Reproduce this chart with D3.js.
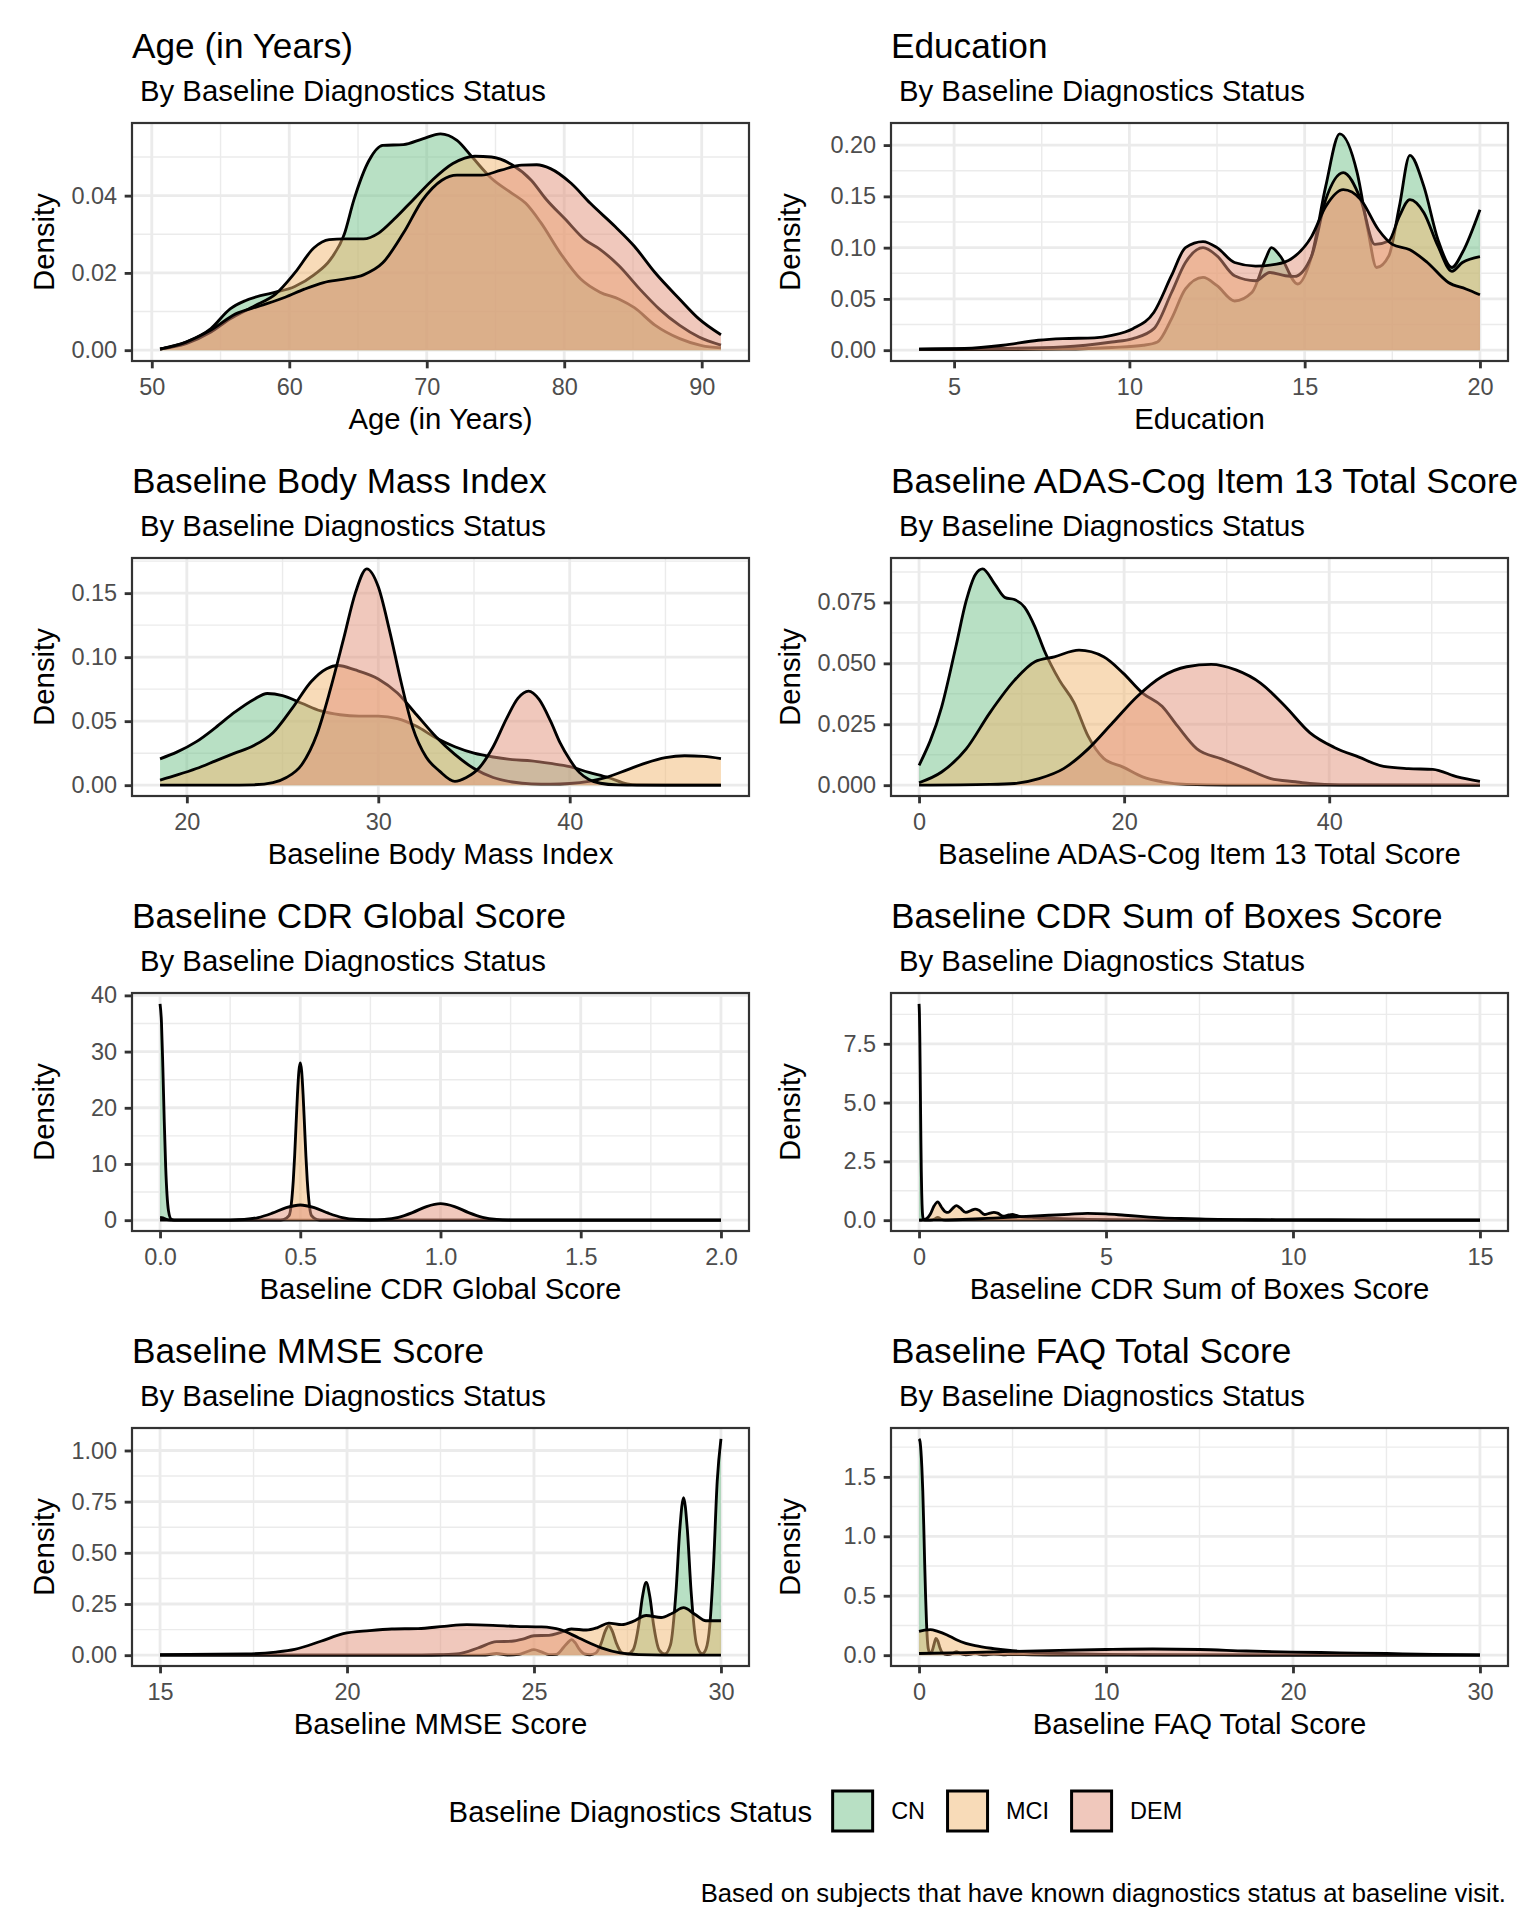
<!DOCTYPE html>
<html>
<head>
<meta charset="utf-8">
<script src="https://cdn.jsdelivr.net/npm/d3@7"></script>
<style>
  body { margin: 0; background: #fff; }
  svg text { font-family: "Liberation Sans", Arial, Helvetica, sans-serif; }
</style>
</head>
<body>
<div id="container"></div>
<script>
// ---- data: [x, density] per status group ----

const statusLevels = ["CN", "MCI", "DEM"];

const ageCN = [[50.6,0.0003],[52.5,0.0021],[54.3,0.0056],[55.7,0.0107],[56.8,0.0128],[57.9,0.0141],[59,0.015],[60.4,0.0165],[61.8,0.0195],[63,0.0235],[64,0.03],[64.7,0.0389],[65.8,0.0491],[66.8,0.053],[68.3,0.0532],[69.7,0.0547],[71,0.056],[72.2,0.0543],[73.3,0.05],[74.7,0.0445],[76.2,0.0406],[77.2,0.038],[78.3,0.033],[79.7,0.0252],[81.2,0.0184],[82.6,0.015],[84,0.0132],[85.1,0.011],[86.6,0.0065],[88.4,0.003],[90,0.0012],[91.4,0.0006]];
const ageMCI = [[50.6,0.0003],[52.5,0.0017],[54.3,0.0047],[55.7,0.0081],[57.5,0.0115],[59,0.0145],[60.4,0.02],[61.8,0.0265],[62.9,0.0286],[64,0.0288],[65.4,0.0288],[66.5,0.0303],[67.6,0.0338],[69,0.0389],[70.4,0.044],[71.9,0.0483],[73.5,0.0502],[74.7,0.05],[76.2,0.048],[77.6,0.044],[78.7,0.039],[80.1,0.0338],[81.5,0.0286],[82.6,0.0261],[84,0.0218],[85.5,0.0158],[86.9,0.0107],[88.4,0.0064],[89.8,0.0034],[91.4,0.0013]];
const ageDEM = [[50.6,0.0003],[52.5,0.0021],[54.3,0.0052],[56.1,0.0094],[57.9,0.0115],[59.7,0.0137],[61.1,0.0158],[62.5,0.0175],[64,0.0184],[65.4,0.0195],[66.8,0.0226],[68.3,0.0303],[69.7,0.0389],[71.1,0.044],[72.2,0.0453],[74,0.0453],[75.4,0.0466],[76.9,0.0479],[78,0.048],[79,0.047],[80.5,0.0432],[81.9,0.038],[83.7,0.032],[85.1,0.0269],[86.6,0.0201],[88.4,0.0132],[89.8,0.0081],[91.4,0.004]];

const eduCN = [[4,0.0005],[6,0.0005],[8.1,0.001],[9.5,0.0026],[10.4,0.0048],[10.8,0.008],[11.2,0.0306],[11.6,0.0597],[12.1,0.071],[12.5,0.0629],[13,0.048],[13.5,0.0565],[13.9,0.0903],[14.05,0.1],[14.3,0.092],[14.8,0.0645],[15.2,0.092],[15.6,0.1597],[16,0.211],[16.5,0.1726],[16.8,0.1177],[17.05,0.0806],[17.4,0.092],[17.7,0.14],[18,0.19],[18.4,0.1597],[18.8,0.108],[19.2,0.0806],[19.5,0.0952],[20,0.137]];
const eduMCI = [[4,0.001],[6,0.0015],[8.1,0.0032],[9.5,0.008],[10.1,0.0113],[10.7,0.021],[11.2,0.056],[11.6,0.0855],[12.1,0.1],[12.5,0.092],[13,0.0726],[13.6,0.0677],[14,0.0758],[14.45,0.0726],[14.7,0.0719],[15.2,0.092],[15.6,0.1468],[16.1,0.1732],[16.6,0.1468],[17,0.1032],[17.4,0.1065],[17.7,0.1306],[18,0.1468],[18.4,0.134],[18.8,0.1016],[19.2,0.077],[19.5,0.0855],[20,0.0913]];
const eduDEM = [[4,0.001],[5.3,0.0016],[6.4,0.0048],[7.4,0.0097],[8.1,0.0113],[9,0.012],[9.5,0.0145],[10.1,0.021],[10.7,0.037],[11.2,0.0726],[11.6,0.1],[12.1,0.1058],[12.5,0.1],[13,0.0855],[13.6,0.082],[14.2,0.0839],[14.6,0.0887],[15.2,0.111],[15.6,0.14],[16.1,0.1565],[16.6,0.1468],[17.1,0.1177],[17.5,0.1032],[18,0.098],[18.5,0.0855],[19.1,0.066],[19.6,0.0597],[20,0.054]];

const bmiCN = [[18.6,0.0206],[19.5,0.026],[20.5,0.034],[21.5,0.045],[22.5,0.057],[23.5,0.067],[24.2,0.0716],[25,0.07],[26,0.064],[27,0.058],[28,0.055],[29,0.054],[30,0.054],[31,0.052],[32,0.046],[33,0.037],[34,0.03],[35,0.025],[36,0.022],[37,0.02],[38,0.019],[39,0.017],[40,0.0145],[41,0.01],[42,0.006],[43,0.001],[43.5,0.0002],[45,0],[47.9,0]];
const bmiMCI = [[18.6,0.004],[19.5,0.008],[20.5,0.013],[21.5,0.019],[22.5,0.025],[23.5,0.031],[24.5,0.041],[25.5,0.06],[26.5,0.081],[27.3,0.091],[27.9,0.0935],[28.8,0.09],[30,0.083],[31,0.072],[32,0.055],[33,0.038],[34,0.024],[35,0.013],[36,0.006],[37,0.0025],[38,0.001],[39,0.0008],[40,0.0013],[41,0.003],[42,0.0065],[43,0.012],[44,0.0175],[45,0.0215],[46,0.023],[47,0.0225],[47.9,0.0208]];
const bmiDEM = [[18.6,0],[22,0],[23.5,0.0003],[24.5,0.002],[25.2,0.006],[26,0.016],[26.8,0.04],[27.5,0.075],[28.2,0.115],[28.8,0.15],[29.4,0.169],[30,0.155],[30.6,0.12],[31.2,0.08],[31.8,0.045],[32.5,0.022],[33.2,0.011],[34,0.003],[34.6,0.006],[35.3,0.014],[36,0.03],[36.7,0.052],[37.3,0.068],[37.85,0.0735],[38.4,0.067],[39,0.05],[39.5,0.033],[40,0.02],[40.5,0.01],[41,0.0045],[41.6,0.0015],[42.5,0.0002],[43.5,0],[47.9,0]];

const adasCN = [[0,0.0081],[2.2,0.032],[3.6,0.057],[4.6,0.0757],[5.5,0.0865],[6.2,0.0888],[7.4,0.0824],[8.4,0.077],[9.3,0.0762],[10.3,0.073],[11.3,0.065],[12.2,0.0554],[13.7,0.043],[15.1,0.034],[16.5,0.02],[18,0.011],[19.9,0.0074],[21.8,0.0034],[23.7,0.0014],[26.1,0.0003],[30,0],[54.7,0]];
const adasMCI = [[0,0.001],[2.2,0.0054],[4.6,0.0149],[6.9,0.0297],[9.3,0.043],[11.3,0.0507],[13.2,0.0527],[15.6,0.0554],[18,0.0527],[19.9,0.046],[21.8,0.0378],[23.7,0.0324],[25.2,0.0243],[27.1,0.0149],[29.5,0.0108],[31.9,0.0068],[34.3,0.0027],[36.7,0.0014],[38.1,0.0007],[41,0.0001],[54.7,0]];
const adasDEM = [[0,0],[6.9,0.0003],[9.3,0.0007],[11.7,0.0027],[14.1,0.0068],[16.5,0.0149],[18.9,0.0257],[21.3,0.0365],[23.7,0.0446],[26.1,0.0486],[28.5,0.0496],[30.9,0.0473],[33.3,0.0419],[35.7,0.0324],[38.1,0.0216],[40.5,0.0155],[42.9,0.0115],[45.3,0.0077],[47.7,0.0068],[50.1,0.0065],[52.5,0.0034],[54.7,0.0016]];

const cdrgCN = [[0,38.5],[0.005,35.3],[0.01,27.2],[0.015,17.6],[0.02,9.6],[0.025,4.4],[0.03,1.7],[0.04,0.15],[0.05,0.01],[0.1,0],[2,0]];
const cdrgMCI = [[0,0.5],[0.01,0.4],[0.02,0.2],[0.03,0.07],[0.05,0],[0.42,0],[0.44,0.11],[0.46,0.8],[0.47,3.8],[0.475,7],[0.48,11.5],[0.485,17],[0.49,22.4],[0.495,26.5],[0.5,28],[0.505,26.5],[0.51,22.4],[0.515,17],[0.52,11.5],[0.525,7],[0.53,3.8],[0.54,0.8],[0.56,0.11],[0.58,0],[2,0]];
const cdrgDEM = [[0,0],[0.2,0],[0.25,0.02],[0.3,0.12],[0.35,0.46],[0.4,1.24],[0.45,2.22],[0.5,2.7],[0.55,2.22],[0.6,1.24],[0.65,0.46],[0.7,0.12],[0.75,0.04],[0.8,0.13],[0.85,0.51],[0.9,1.35],[0.95,2.43],[1,2.95],[1.05,2.43],[1.1,1.35],[1.15,0.51],[1.2,0.13],[1.25,0.02],[1.3,0],[2,0]];

const cdrsbCN = [[0,9.2],[0.01,8.8],[0.02,7.8],[0.03,6.4],[0.04,4.8],[0.05,3.3],[0.06,2.1],[0.07,1.25],[0.08,0.68],[0.1,0.15],[0.12,0.03],[0.15,0.005],[0.3,0.003],[0.42,0.05],[0.5,0.12],[0.58,0.05],[0.7,0.003],[1,0.008],[1.5,0],[15,0]];
const cdrsbMCI = [[0,0],[0.1,0.01],[0.2,0.06],[0.3,0.25],[0.4,0.6],[0.5,0.78],[0.6,0.55],[0.7,0.36],[0.78,0.33],[0.9,0.5],[1,0.62],[1.1,0.52],[1.25,0.33],[1.4,0.42],[1.5,0.47],[1.6,0.42],[1.75,0.24],[1.9,0.3],[2,0.33],[2.1,0.3],[2.25,0.17],[2.4,0.22],[2.5,0.24],[2.6,0.2],[2.8,0.13],[3,0.12],[3.3,0.09],[3.6,0.07],[4,0.05],[4.5,0.035],[5,0.02],[6,0.01],[7,0.004],[8,0.001],[9,0],[15,0]];
const cdrsbDEM = [[0,0],[0.5,0.005],[1,0.02],[1.5,0.05],[2,0.09],[2.5,0.13],[3,0.17],[3.5,0.21],[4,0.25],[4.5,0.29],[5,0.27],[5.5,0.21],[6,0.15],[6.5,0.1],[7,0.07],[7.5,0.05],[8,0.035],[9,0.02],[10,0.012],[11,0.007],[12,0.004],[13,0.002],[14,0.001],[15,0]];

const mmseCN = [[15,0],[23.4,0],[23.7,0.001],[24,0.008],[24.3,0.001],[24.6,0.004],[24.8,0.016],[25,0.027],[25.2,0.016],[25.4,0.003],[25.6,0.004],[25.8,0.04],[25.9,0.061],[26,0.076],[26.1,0.061],[26.2,0.032],[26.35,0.006],[26.5,0.002],[26.65,0.01],[26.8,0.06],[26.9,0.115],[27,0.144],[27.1,0.115],[27.2,0.06],[27.35,0.012],[27.5,0.006],[27.65,0.026],[27.8,0.146],[27.9,0.284],[28,0.355],[28.1,0.284],[28.2,0.146],[28.35,0.025],[28.5,0.006],[28.65,0.05],[28.8,0.316],[28.9,0.616],[29,0.77],[29.1,0.616],[29.2,0.316],[29.35,0.051],[29.5,0.007],[29.6,0.03],[29.7,0.143],[29.8,0.434],[29.9,0.85],[30,1.057]];
const mmseMCI = [[15,0],[22,0],[22.5,0.002],[23,0.008],[23.5,0.035],[24,0.066],[24.4,0.068],[24.7,0.078],[25,0.095],[25.4,0.097],[25.7,0.11],[26,0.128],[26.4,0.123],[26.7,0.135],[27,0.157],[27.35,0.149],[27.65,0.165],[28,0.194],[28.4,0.184],[28.7,0.205],[29,0.232],[29.3,0.2],[29.6,0.168],[30,0.168]];
const mmseDEM = [[15,0.003],[17.3,0.006],[18.1,0.015],[18.6,0.028],[19.3,0.068],[19.9,0.105],[20.6,0.12],[21.2,0.128],[21.9,0.13],[22.6,0.141],[23.2,0.149],[23.9,0.146],[24.5,0.141],[25.2,0.138],[25.7,0.125],[26.2,0.084],[26.8,0.036],[27.3,0.011],[27.8,0.003],[28.5,0.0005],[30,0]];

const faqCN = [[0,1.82],[0.05,1.8],[0.1,1.72],[0.15,1.58],[0.2,1.38],[0.25,1.1],[0.3,0.78],[0.35,0.5],[0.4,0.27],[0.45,0.12],[0.5,0.05],[0.6,0.015],[0.7,0.035],[0.8,0.09],[0.9,0.14],[1,0.12],[1.1,0.07],[1.25,0.02],[1.5,0.005],[1.8,0.015],[2,0.03],[2.2,0.015],[2.5,0.004],[2.8,0.01],[3,0.018],[3.2,0.01],[3.6,0.003],[4,0.01],[4.5,0.003],[5,0.006],[6,0.003],[7,0.001],[8,0],[30,0]];
const faqMCI = [[0,0.2],[0.3,0.21],[0.6,0.215],[1,0.2],[1.5,0.17],[2,0.13],[2.5,0.1],[3,0.08],[4,0.055],[5,0.037],[6,0.025],[7,0.018],[8,0.013],[10,0.007],[12,0.004],[15,0.002],[20,0.001],[30,0]];
const faqDEM = [[0,0.014],[2.5,0.022],[5,0.032],[7.5,0.041],[10,0.048],[12.5,0.052],[15,0.048],[17.5,0.035],[20,0.026],[22.5,0.02],[25,0.014],[27.5,0.007],[30,0.003]];

// ---- panel labels and axis breaks ----
const panelTitles = ["Age (in Years)", "Education", "Baseline Body Mass Index", "Baseline ADAS-Cog Item 13 Total Score",
                     "Baseline CDR Global Score", "Baseline CDR Sum of Boxes Score", "Baseline MMSE Score", "Baseline FAQ Total Score"];
const subtitleText = "By Baseline Diagnostics Status";
const xTickVals = [[50,60,70,80,90],[5,10,15,20],[20,30,40],[0,20,40],[0,0.5,1,1.5,2],[0,5,10,15],[15,20,25,30],[0,10,20,30]];
const xTickFormats = ["d","d","d","d",".1f","d","d","d"];
const yTickVals = [[0,0.02,0.04],[0,0.05,0.1,0.15,0.2],[0,0.05,0.1,0.15],[0,0.025,0.05,0.075],[0,10,20,30,40],[0,2.5,5,7.5],[0,0.25,0.5,0.75,1],[0,0.5,1,1.5]];
const yTickFormats = [".2f",".2f",".2f",".3f","d",".1f",".2f",".1f"];
const legendTitle = "Baseline Diagnostics Status";
const captionText = "Based on subjects that have known diagnostics status at baseline visit.";

const panelSeries = [
  [ageCN, ageMCI, ageDEM], [eduCN, eduMCI, eduDEM], [bmiCN, bmiMCI, bmiDEM], [adasCN, adasMCI, adasDEM],
  [cdrgCN, cdrgMCI, cdrgDEM], [cdrsbCN, cdrsbMCI, cdrsbDEM], [mmseCN, mmseMCI, mmseDEM], [faqCN, faqMCI, faqDEM]
];

// ---- look ----
const fills = ["#71C189", "#F1B771", "#E19179"];
const fillAlpha = 0.5;
const lw = 2.84;
const colX = [132, 891];
const panelW = 617, panelH = 238;
const rowTop0 = 123, rowStep = 435;
const yTitleX = [54, 800];

const svg = d3.select("#container").append("svg")
  .attr("width", 1536).attr("height", 1920)
  .style("background", "white");

function minorBreaks(ticks, dom) {
  const step = ticks[1] - ticks[0];
  const ext = [ticks[0] - step, ...ticks, ticks[ticks.length - 1] + step];
  const out = [];
  for (let i = 0; i < ext.length - 1; i++) {
    const m = (ext[i] + ext[i + 1]) / 2;
    if (m >= dom[0] && m <= dom[1]) out.push(m);
  }
  return out;
}

panelSeries.forEach(function(series, p) {
  const col = p % 2, row = Math.floor(p / 2);
  const left = colX[col], top = rowTop0 + row * rowStep;

  // ggplot style 5% expansion
  const allX = series.flat().map(d => d[0]);
  const allY = series.flat().map(d => d[1]);
  const xmin = d3.min(allX), xmax = d3.max(allX);
  const xr = xmax - xmin;
  const ymax = d3.max(allY);
  const xDom = [xmin - 0.05 * xr, xmax + 0.05 * xr];
  const yDom = [-0.05 * ymax, ymax * 1.05];

  const x = d3.scaleLinear().domain(xDom).range([0, panelW]);
  const y = d3.scaleLinear().domain(yDom).range([panelH, 0]);

  const g = svg.append("g").attr("transform", "translate(" + left + "," + top + ")");

  // titles
  svg.append("text").attr("x", left).attr("y", top - 65.5)
    .attr("font-size", 35.2).attr("fill", "#000").text(panelTitles[p]);
  svg.append("text").attr("x", left + 8).attr("y", top - 22.5)
    .attr("font-size", 29.33).attr("fill", "#000").text(subtitleText);

  // grid
  const xt = xTickVals[p], yt = yTickVals[p];
  g.selectAll(".gxm").data(minorBreaks(xt, xDom)).enter().append("line")
    .attr("x1", d => x(d)).attr("x2", d => x(d)).attr("y1", 0).attr("y2", panelH)
    .attr("stroke", "#EBEBEB").attr("stroke-width", 1.42);
  g.selectAll(".gym").data(minorBreaks(yt, yDom)).enter().append("line")
    .attr("y1", d => y(d)).attr("y2", d => y(d)).attr("x1", 0).attr("x2", panelW)
    .attr("stroke", "#EBEBEB").attr("stroke-width", 1.42);
  g.selectAll(".gx").data(xt).enter().append("line")
    .attr("x1", d => x(d)).attr("x2", d => x(d)).attr("y1", 0).attr("y2", panelH)
    .attr("stroke", "#EBEBEB").attr("stroke-width", 2.84);
  g.selectAll(".gy").data(yt).enter().append("line")
    .attr("y1", d => y(d)).attr("y2", d => y(d)).attr("x1", 0).attr("x2", panelW)
    .attr("stroke", "#EBEBEB").attr("stroke-width", 2.84);

  // densities, drawn group by group: fill then upper outline
  const area = d3.area().x(d => x(d[0])).y0(y(0)).y1(d => y(d[1])).curve(d3.curveMonotoneX);
  const line = d3.line().x(d => x(d[0])).y(d => y(d[1])).curve(d3.curveMonotoneX);
  series.forEach(function(s, i) {
    g.append("path").attr("d", area(s)).attr("fill", fills[i]).attr("fill-opacity", fillAlpha);
    g.append("path").attr("d", line(s)).attr("fill", "none").attr("stroke", "#000")
      .attr("stroke-width", lw).attr("stroke-linejoin", "round");
  });

  // border
  g.append("rect").attr("x", 0).attr("y", 0).attr("width", panelW).attr("height", panelH)
    .attr("fill", "none").attr("stroke", "#333333").attr("stroke-width", 2.2);

  // axes
  const xa = g.append("g").attr("transform", "translate(0," + panelH + ")")
    .call(d3.axisBottom(x).tickValues(xt).tickFormat(d3.format(xTickFormats[p])).tickSizeOuter(0).tickSize(7.33).tickPadding(10));
  const ya = g.append("g")
    .call(d3.axisLeft(y).tickValues(yt).tickFormat(d3.format(yTickFormats[p])).tickSizeOuter(0).tickSize(7.33).tickPadding(7.5));
  [xa, ya].forEach(a => {
    a.select(".domain").remove();
    a.selectAll("line").attr("stroke", "#333333").attr("stroke-width", 2.84);
    a.selectAll("text").attr("fill", "#4D4D4D").attr("font-size", 23.47)
      .attr("font-family", '"Liberation Sans", Arial, Helvetica, sans-serif');
  });

  // axis titles
  svg.append("text").attr("x", left + panelW / 2).attr("y", top + panelH + 68)
    .attr("text-anchor", "middle").attr("font-size", 29.33).attr("fill", "#000").text(panelTitles[p]);
  svg.append("text").attr("transform", "translate(" + yTitleX[col] + "," + (top + panelH / 2) + ") rotate(-90)")
    .attr("text-anchor", "middle").attr("font-size", 29.33).attr("fill", "#000").text("Density");
});

// ---- legend ----
const leg = svg.append("g");
const legY = 1811;
const lt = leg.append("text").attr("x", 448.6).attr("y", legY + 10.5)
  .attr("font-size", 29.33).attr("fill", "#000").text(legendTitle);
let lx = 448.6 + lt.node().getComputedTextLength() + 19;
statusLevels.forEach(function(s, i) {
  leg.append("rect").attr("x", lx).attr("y", legY - 21.5).attr("width", 43).attr("height", 43).attr("fill", "#fff");
  leg.append("rect").attr("x", lx + 1.5).attr("y", legY - 20).attr("width", 40).attr("height", 40)
    .attr("fill", fills[i]).attr("fill-opacity", fillAlpha).attr("stroke", "#000").attr("stroke-width", 3);
  const t = leg.append("text").attr("x", lx + 43 + 17).attr("y", legY + 8.4)
    .attr("font-size", 23.47).attr("fill", "#000").text(s);
  lx = lx + 43 + 17 + t.node().getComputedTextLength() + 21;
});

// caption
svg.append("text").attr("x", 1506).attr("y", 1902).attr("text-anchor", "end")
  .attr("font-size", 25.7).attr("fill", "#000").text(captionText);
</script>
</body>
</html>
